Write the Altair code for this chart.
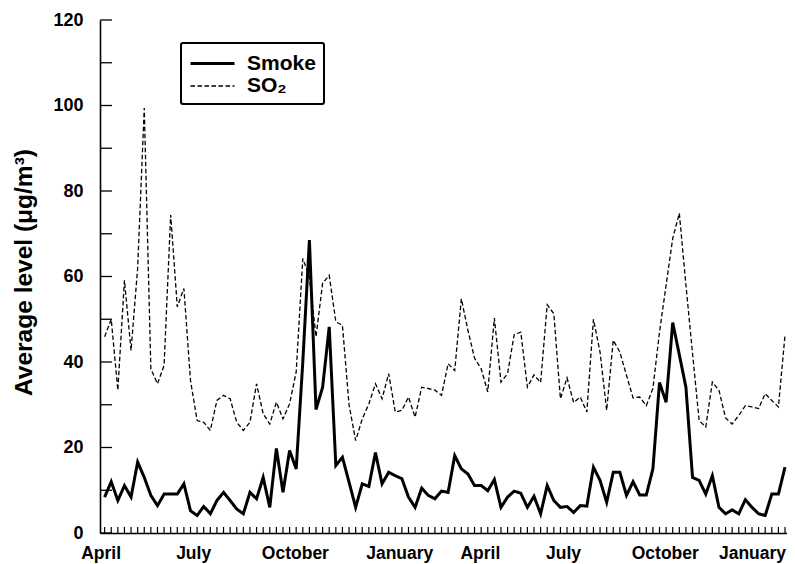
import altair as alt
import pandas as pd

# Weekly average levels (µg/m3), April year 1 .. March year 3
smoke = [8.4, 12.0, 7.6, 11.1, 8.4, 16.6, 13.0, 8.8, 6.4, 9.1,
         9.1, 9.1, 11.5, 5.2, 4.1, 6.2, 4.5, 7.6, 9.5, 7.6,
         5.6, 4.5, 9.5, 8.0, 13.0, 6.0, 19.8, 9.5, 19.3, 15.0,
         40.0, 68.5, 28.9, 34.1, 48.2, 15.8, 17.7, 11.9, 6.0, 11.5,
         10.9, 18.8, 11.5, 14.2, 13.4, 12.7, 8.4, 6.0, 10.5, 8.8,
         8.0, 9.8, 9.5, 18.1, 15.0, 13.8, 11.1, 11.1, 9.9, 12.5,
         6.0, 8.4, 9.8, 9.3, 6.0, 8.6, 4.5, 11.1, 7.6, 6.0,
         6.2, 4.8, 6.4, 6.3, 15.4, 12.3, 7.2, 14.2, 14.2, 8.8,
         12.0, 8.9, 8.9, 15.0, 35.2, 30.6, 49.2, 41.7, 34.1, 13.0,
         12.3, 9.1, 13.4, 6.0, 4.5, 5.4, 4.5, 7.8, 6.0, 4.5,
         4.1, 9.1, 9.1, 15.4]

so2 = [45.9, 50.0, 33.4, 59.1, 42.7, 62.0, 99.4, 38.4, 34.9, 39.2,
       74.4, 52.9, 57.2, 35.7, 26.3, 25.9, 24.0, 31.0, 32.2, 31.4,
       25.9, 24.0, 25.9, 34.9, 27.9, 25.5, 30.6, 26.7, 30.2, 37.7,
       64.2, 59.9, 45.9, 58.4, 60.3, 49.4, 48.6, 30.0, 21.6, 26.7,
       30.2, 34.9, 31.4, 37.3, 28.3, 28.7, 31.8, 27.1, 34.1, 33.8,
       33.4, 32.2, 39.6, 38.0, 54.8, 47.4, 40.9, 38.4, 33.0, 50.3,
       35.3, 37.3, 46.4, 47.0, 34.1, 37.0, 35.2, 53.4, 51.3, 31.4,
       36.3, 30.5, 31.8, 28.3, 50.0, 42.3, 28.7, 45.1, 42.3, 36.9,
       31.6, 31.8, 29.8, 33.8, 47.0, 58.0, 68.9, 74.8, 58.0, 42.0,
       26.3, 24.8, 35.3, 33.4, 26.9, 25.5, 27.5, 29.8, 29.5, 29.1,
       32.6, 31.0, 29.5, 46.3]

series_names = ["Smoke", "SO\u2082"]

month_labels = ["April", "July", "October", "January",
                "April", "July", "October", "January"]
month_positions = [-0.6, 13.4, 28.8, 44.6, 56.8, 69.4, 84.8, 98.0]

y_tick_values = list(range(0, 121, 10))
y_label_values = list(range(0, 121, 20))

weeks = list(range(len(smoke)))

rows = []
for name, vals in zip(series_names, [smoke, so2]):
    for w, v in zip(weeks, vals):
        rows.append({"week": w, "value": v, "series": name})
df = pd.DataFrame(rows)

W, H = 687, 513
FONT = "Liberation Sans"

label_expr = ""
for pos, lab in zip(month_positions, month_labels):
    label_expr += f"abs(datum.value - ({pos})) < 0.05 ? '{lab}' : "
label_expr += "''"

xscale = alt.Scale(domain=[-0.7, 103.3], nice=False, zero=False)
yscale = alt.Scale(domain=[0, 120], nice=False)

x_axis = alt.Axis(values=month_positions, labelExpr=label_expr,
                  ticks=False, tickSize=0, grid=False, title=None,
                  domainColor="black", domainWidth=1.6,
                  labelFont=FONT, labelFontSize=17.5, labelFontWeight="bold",
                  labelColor="black", labelPadding=11,
                  labelFlush=False, labelOverlap=False)
y_axis = alt.Axis(values=y_label_values, ticks=False, tickSize=0, grid=False,
                  domainColor="black", domainWidth=1.6,
                  labelFont=FONT, labelFontSize=18, labelFontWeight="bold",
                  labelColor="black", labelPadding=17,
                  title="Average level (\u03bcg/m\u00b3)",
                  titleFont=FONT, titleFontSize=24.5, titleFontWeight="bold",
                  titleColor="black", titleX=-64, titleY=252,
                  titleBaseline="bottom")

legend = alt.Legend(title=None, orient="none", legendX=81, legendY=23,
                    symbolType="M-1,0H3", symbolSize=484,
                    symbolStrokeColor="black",
                    labelFont=FONT, labelFontSize=21, labelFontWeight="bold",
                    labelColor="black", labelOffset=33,
                    strokeColor="black", padding=8, rowPadding=0, cornerRadius=2)

lines = alt.Chart(df).mark_line(color="black", strokeJoin="miter").encode(
    x=alt.X("week:Q", scale=xscale, axis=x_axis),
    y=alt.Y("value:Q", scale=yscale, axis=y_axis),
    strokeDash=alt.StrokeDash("series:N",
                              scale=alt.Scale(domain=series_names,
                                              range=[[1, 0], [4.5, 2.5]]),
                              legend=legend),
    strokeWidth=alt.StrokeWidth("series:N",
                                scale=alt.Scale(domain=series_names, range=[3, 1.3]),
                                legend=legend),
)

xticks_df = pd.DataFrame({"week": weeks})
xticks = alt.Chart(xticks_df).mark_rule(color="black", strokeWidth=1.2).encode(
    x=alt.X("week:Q", scale=xscale, axis=x_axis),
    y=alt.value(H),
    y2=alt.value(H - 6),
)

yticks_df = pd.DataFrame({"value": y_tick_values})
yticks = alt.Chart(yticks_df).mark_rule(color="black", strokeWidth=1.3).encode(
    y=alt.Y("value:Q", scale=yscale, axis=y_axis),
    x=alt.value(0),
    x2=alt.value(12),
)

chart = alt.layer(lines, xticks, yticks).properties(
    width=W, height=H,
    autosize=alt.AutoSizeParams(type="none"),
    padding={"left": 92, "top": 12, "right": 0, "bottom": 31},
).configure_view(stroke=None).configure_legend(strokeWidth=2)

chart.save("out.html", embed_options={"renderer": "svg", "actions": False})
